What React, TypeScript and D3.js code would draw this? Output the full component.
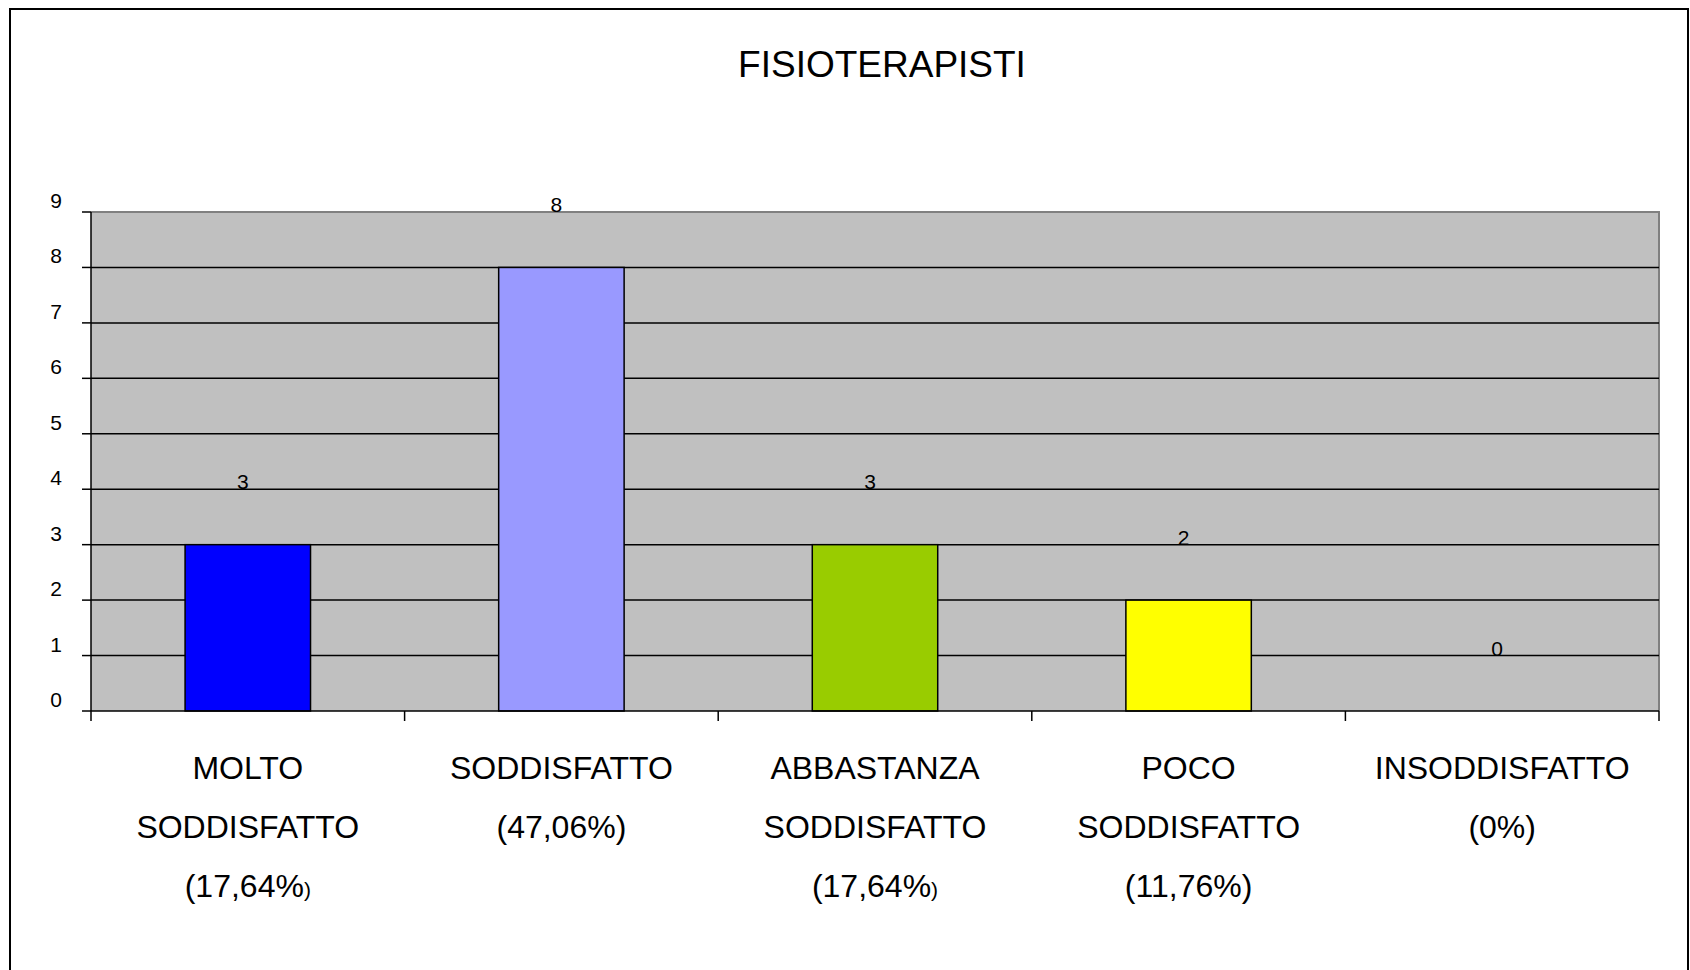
import * as d3 from "d3";
import React from "react";

// dati del grafico
const title = "FISIOTERAPISTI";
const categories = ["MOLTO SODDISFATTO", "SODDISFATTO", "ABBASTANZA SODDISFATTO", "POCO SODDISFATTO", "INSODDISFATTO"];
const values = [3, 8, 3, 2, 0];
const labelLines = [
  ["MOLTO", "SODDISFATTO", "(17,64%"],
  ["SODDISFATTO", "(47,06%)"],
  ["ABBASTANZA", "SODDISFATTO", "(17,64%"],
  ["POCO", "SODDISFATTO", "(11,76%)"],
  ["INSODDISFATTO", "(0%)"],
];
// le etichette con la parentesi finale più piccola
const smallParen = [true, false, true, false, false];
const yTicks = [0, 1, 2, 3, 4, 5, 6, 7, 8, 9];
const colors = ["#0000ff", "#9999ff", "#99cc00", "#ffff00", "#ff0000"];

const W = 1690;
const H = 970;
const font = "'Liberation Sans', Arial, sans-serif";

export default function App() {
  const left = 91;
  const right = 1659;
  const top = 212;
  const bottom = 711;

  const x = d3.scaleBand().domain(categories).range([left, right]).paddingInner(0.6).paddingOuter(0.3);
  const y = d3.scaleLinear().domain([0, 9]).range([bottom, top]);
  const step = x.step();
  const unit = y(0) - y(1);

  return (
    <div style={{ position: "absolute", left: 0, top: 0 }}>
      <svg width={W} height={H} style={{ display: "block" }} fontFamily={font}>
        <rect x={0} y={0} width={W} height={H} fill="#fff" />
        {/* bordo esterno */}
        <rect x={10} y={9} width={1678} height={980} fill="none" stroke="#000" strokeWidth={2} />

        <text x={882} y={77} textAnchor="middle" fontSize={37} fill="#000">
          {title}
        </text>

        {/* area del grafico */}
        <rect x={left} y={top} width={right - left} height={bottom - top} fill="#c0c0c0" />
        <path d={`M${left},${top}H${right}V${bottom}`} fill="none" stroke="#808080" strokeWidth={2} />

        {yTicks.slice(1, -1).map((t) => (
          <line key={t} x1={left} x2={right} y1={y(t)} y2={y(t)} stroke="#000" strokeWidth={1.5} />
        ))}

        {/* barre */}
        {values.map((v, i) => (
          <rect
            key={categories[i]}
            x={x(categories[i])}
            y={y(v)}
            width={x.bandwidth()}
            height={y(0) - y(v)}
            fill={colors[i]}
            stroke="#000"
            strokeWidth={1.5}
          />
        ))}

        {/* assi */}
        <line x1={left} x2={left} y1={top} y2={bottom} stroke="#000" strokeWidth={1.5} />
        <line x1={left} x2={right} y1={bottom} y2={bottom} stroke="#000" strokeWidth={1.5} />
        {yTicks.map((t) => (
          <g key={t}>
            <line x1={left - 9} x2={left} y1={y(t)} y2={y(t)} stroke="#000" strokeWidth={1.5} />
            <text x={56} y={y(t) - 4} textAnchor="middle" fontSize={21} fill="#000">
              {t}
            </text>
          </g>
        ))}
        {d3.range(categories.length + 1).map((i) => (
          <line
            key={i}
            x1={left + i * step}
            x2={left + i * step}
            y1={bottom}
            y2={bottom + 10}
            stroke="#000"
            strokeWidth={1.5}
          />
        ))}

        {/* etichette dei valori */}
        {values.map((v, i) => (
          <text
            key={i}
            x={(x(categories[i]) as number) + x.bandwidth() / 2 - 5}
            y={y(v) - unit}
            textAnchor="middle"
            fontSize={21}
            fill="#000"
          >
            {v}
          </text>
        ))}

        {/* etichette delle categorie */}
        {labelLines.map((lines, i) => {
          const cx = (x(categories[i]) as number) + x.bandwidth() / 2;
          return (
            <g key={i}>
              {lines.map((ln, j) => {
                const last = j === lines.length - 1;
                return (
                  <text key={j} x={cx} y={779 + j * 59} textAnchor="middle" fontSize={32} fill="#000">
                    {ln}
                    {last && smallParen[i] ? <tspan fontSize={21}>)</tspan> : null}
                  </text>
                );
              })}
            </g>
          );
        })}
      </svg>
    </div>
  );
}
